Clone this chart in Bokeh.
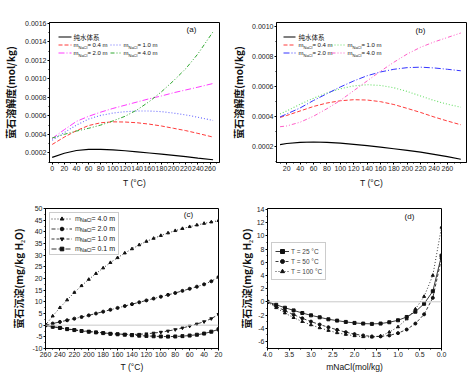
from bokeh.plotting import figure
from bokeh.models import (Range1d, FixedTicker, PrintfTickFormatter, Span, Label,
                          Arrow, Legend, LegendItem)
from bokeh.layouts import column, row
from bokeh.embed import file_html
from bokeh.resources import INLINE

# ---------------- data ----------------
a_T = [0, 20, 40, 60, 80, 100, 120, 140, 160, 180, 200, 220, 240, 265]
a_pure = [0.000150, 0.000195, 0.000225, 0.000238, 0.000238, 0.000232, 0.000222,
          0.000210, 0.000198, 0.000185, 0.000172, 0.000158, 0.000143, 0.000125]
a_m04 = [0.000290, 0.000370, 0.000440, 0.000495, 0.000525, 0.000535, 0.000533,
         0.000525, 0.000510, 0.000490, 0.000465, 0.000440, 0.000410, 0.000370]
a_m10 = [0.000335, 0.000420, 0.000500, 0.000565, 0.000605, 0.000630, 0.000645,
         0.000652, 0.000652, 0.000645, 0.000630, 0.000610, 0.000585, 0.000550]
a_m20 = [0.000355, 0.000450, 0.000540, 0.000595, 0.000640, 0.000680, 0.000715,
         0.000750, 0.000785, 0.000815, 0.000850, 0.000880, 0.000910, 0.000950]
a_m40 = [0.000360, 0.000400, 0.000435, 0.000465, 0.000500, 0.000545, 0.000595,
         0.000665, 0.000755, 0.000860, 0.000980, 0.001110, 0.001270, 0.001510]

b_T = [10, 20, 40, 60, 80, 100, 120, 140, 160, 180, 200, 220, 240, 260, 280]
b_pure = [0.000210, 0.000218, 0.000226, 0.000228, 0.000226, 0.000220, 0.000212, 0.000204,
          0.000194, 0.000183, 0.000172, 0.000160, 0.000146, 0.000130, 0.000113]
b_m04 = [0.000392, 0.000405, 0.000435, 0.000465, 0.000488, 0.000503, 0.000510, 0.000508,
         0.000497, 0.000478, 0.000452, 0.000425, 0.000395, 0.000368, 0.000343]
b_m10 = [0.000415, 0.000435, 0.000480, 0.000520, 0.000555, 0.000583, 0.000602, 0.000610,
         0.000605, 0.000590, 0.000565, 0.000535, 0.000505, 0.000480, 0.000460]
b_m20 = [0.000395, 0.000415, 0.000455, 0.000505, 0.000550, 0.000595, 0.000635, 0.000670,
         0.000695, 0.000713, 0.000724, 0.000727, 0.000722, 0.000713, 0.000703]
b_m40 = [0.000330, 0.000335, 0.000360, 0.000400, 0.000450, 0.000505, 0.000570, 0.000635,
         0.000700, 0.000760, 0.000815, 0.000860, 0.000895, 0.000925, 0.000955]

c_T = [260, 250, 240, 230, 220, 210, 200, 190, 180, 170, 160, 150, 140, 130, 120,
       110, 100, 90, 80, 70, 60, 50, 40, 30, 20]
c_m40 = [0, 3.9, 7.5, 10.8, 14.0, 16.9, 19.6, 22.1, 24.5, 26.8, 28.9, 30.9, 32.7,
         34.4, 35.9, 37.2, 38.4, 39.5, 40.5, 41.4, 42.2, 42.9, 43.6, 44.2, 44.8]
c_m20 = [0, 0.7, 1.4, 2.1, 2.8, 3.5, 4.2, 5.0, 5.8, 6.6, 7.4, 8.2, 9.0, 9.8, 10.6,
         11.4, 12.2, 13.0, 13.8, 14.7, 15.6, 16.5, 17.5, 18.8, 20.6]
c_m10 = [0, -0.6, -1.1, -1.6, -2.0, -2.4, -2.7, -3.0, -3.3, -3.6, -3.8, -3.9, -4.0,
         -3.9, -3.7, -3.4, -3.0, -2.5, -1.9, -1.2, -0.4, 0.5, 1.5, 2.8, 4.6]
c_m01 = [0, -0.7, -1.2, -1.7, -2.1, -2.5, -2.8, -3.1, -3.4, -3.7, -3.9, -4.1, -4.3,
         -4.5, -4.6, -4.75, -4.85, -4.9, -4.85, -4.7, -4.45, -4.1, -3.6, -2.8, -1.8]

d_m = [4.0, 3.8, 3.6, 3.4, 3.2, 3.0, 2.8, 2.6, 2.4, 2.2, 2.0, 1.8, 1.6, 1.4, 1.2,
       1.0, 0.8, 0.6, 0.4, 0.2, 0.0]
d_T25 = [0, -0.45, -0.9, -1.3, -1.7, -2.05, -2.35, -2.65, -2.85, -3.05, -3.2, -3.3,
         -3.35, -3.3, -3.1, -2.8, -2.3, -1.5, -0.3, 1.6, 7.0]
d_T50 = [0, -0.7, -1.35, -1.95, -2.5, -3.0, -3.45, -3.85, -4.25, -4.6, -4.9, -5.1,
         -5.25, -5.25, -5.1, -4.75, -4.2, -3.3, -1.9, 0.6, 6.6]
d_T100 = [0, -0.9, -1.7, -2.4, -3.0, -3.5, -3.95, -4.35, -4.7, -4.95, -5.15, -5.3,
          -5.35, -5.2, -4.6, -3.8, -2.6, -1.1, 0.8, 4.0, 11.3]

# ticks
a_xticks = [0, 20, 40, 60, 80, 100, 120, 140, 160, 180, 200, 220, 240, 260]
a_yticks = [0.0002, 0.0004, 0.0006, 0.0008, 0.0010, 0.0012, 0.0014, 0.0016]
b_xticks = [20, 40, 60, 80, 100, 120, 140, 160, 180, 200, 220, 240, 260]
b_yticks = [0.0002, 0.0004, 0.0006, 0.0008, 0.0010]
c_xticks = [260, 240, 220, 200, 180, 160, 140, 120, 100, 80, 60, 40, 20]
c_yticks = [-10, -5, 0, 5, 10, 15, 20, 25, 30, 35, 40, 45, 50]
d_xticks = [4.0, 3.5, 3.0, 2.5, 2.0, 1.5, 1.0, 0.5, 0.0]
d_yticks = [-6, -4, -2, 0, 2, 4, 6, 8, 10, 12, 14]

ylab_sol = "萤石溶解度(mol/kg)"
ylab_pre = "萤石沉淀(mg/kg H₂O)"
xlab_T = "T (°C)"
xlab_m = "mNaCl(mol/kg)"
legend_ab = ["纯水体系", "0.4", "1.0", "2.0", "4.0"]
legend_c = ["4.0", "2.0", "1.0", "0.1"]
legend_d = ["T = 25 °C", "T = 50 °C", "T = 100 °C"]

# ---------------- helpers ----------------
FONT = "Liberation Sans"
CJK = "Noto Sans CJK SC"
ADV = {"m": .833, "N": .722, "a": .556, "C": .722, "l": .222, " ": .278, "=": .584,
       ".": .278, "T": .611, "(": .333, ")": .333, "°": .4, "o": .556, "/": .278,
       "k": .5, "g": .556}
for d in "0123456789":
    ADV[d] = .556


def tw(s, fs):
    return sum(ADV.get(ch, .556) for ch in s) * fs


FH = 140


def make_fig(w, h, xr, yr, bl, br, bt, bb, xt, xminor, yt, yminor, xfmt, yfmt,
             ylabel, ystand, xlabel, xstand):
    p = figure(width=w, height=h, x_range=xr, y_range=yr, output_backend="svg",
               toolbar_location=None, title=None, min_border_left=bl,
               min_border_right=br, min_border_top=bt, min_border_bottom=bb)
    p.xgrid.visible = False
    p.ygrid.visible = False
    p.outline_line_color = "black"
    p.outline_line_alpha = 1
    p.outline_line_width = 1
    p.background_fill_color = "white"
    p.border_fill_color = "white"
    for ax in (p.xaxis[0], p.yaxis[0]):
        ax.axis_line_color = "black"
        ax.major_tick_out = 2
        ax.major_tick_in = 0
        ax.minor_tick_out = 1
        ax.minor_tick_in = 0
        ax.major_tick_line_color = "black"
        ax.minor_tick_line_color = "black"
        ax.major_label_text_font = FONT
        ax.major_label_text_font_size = "7px"
        ax.major_label_text_color = "#222222"
        ax.major_label_standoff = 1
    p.xaxis[0].ticker = FixedTicker(ticks=xt, minor_ticks=xminor)
    p.yaxis[0].ticker = FixedTicker(ticks=yt, minor_ticks=yminor)
    p.xaxis[0].formatter = PrintfTickFormatter(format=xfmt)
    p.yaxis[0].formatter = PrintfTickFormatter(format=yfmt)
    p.xaxis[0].axis_label = xlabel
    p.xaxis[0].axis_label_text_font = FONT
    p.xaxis[0].axis_label_text_font_size = "8.5px"
    p.xaxis[0].axis_label_text_font_style = "normal"
    p.xaxis[0].axis_label_text_color = "#111111"
    p.xaxis[0].axis_label_standoff = xstand
    p.yaxis[0].axis_label = ylabel
    p.yaxis[0].axis_label_text_font = CJK
    p.yaxis[0].axis_label_text_font_size = "10px"
    p.yaxis[0].axis_label_text_font_style = "bold"
    p.yaxis[0].axis_label_text_color = "#111111"
    p.yaxis[0].axis_label_standoff = ystand
    return p


def add_text(p, x, y, text, fs, font=FONT, style="normal", align="left", color="#111111"):
    p.add_layout(Label(x=x, y=y, x_units="screen", y_units="screen", text=text,
                       text_font=font, text_font_size=f"{fs}px", text_font_style=style,
                       text_align=align, text_baseline="middle", text_color=color))


def add_mtext(p, x, y, val, fs, sfs, with_m=True):
    # "m" + subscript "NaCl" + " = val m"
    if with_m:
        add_text(p, x, y, "m", fs)
        x += tw("m", fs)
    add_text(p, x, y - 0.35 * fs, "NaCl", sfs)
    x += tw("NaCl", sfs)
    add_text(p, x, y, " = " + val + " m", fs)


def seg(p, x0, x1, y, color, dash, width=1.0):
    p.add_layout(Arrow(end=None, x_start=x0, y_start=y, x_end=x1, y_end=y,
                       start_units="screen", end_units="screen", line_color=color,
                       line_dash=dash, line_width=width))


# ---------------- panel (a) ----------------
minor_a = list(range(-10, 281, 10))
pa = make_fig(228, 190, Range1d(-4.4, 275.6), Range1d(0.000095, 0.00161), 46, 9, 22, 28,
              a_xticks, minor_a, a_yticks, [i * 0.0001 for i in range(1, 17)],
              "%d", "%.4f", ylab_sol, 4, xlab_T, 4)
styles_a = [("#000000", "solid", 1.2), ("#ff3b3b", "4 2", 1.0), ("#6a6aff", "1 2", 1.1),
            ("#ff3bff", "6 2 1 2", 1.0), ("#2fa82f", "4 2 1 2 1 2", 1.0)]
for ys, (c, dsh, lw) in zip([a_pure, a_m04, a_m10, a_m20, a_m40], styles_a):
    pa.line(a_T, ys, line_color=c, line_dash=dsh, line_width=lw)
rows = [FH - 14.5, FH - 22.5, FH - 30.5]
seg(pa, 9, 22, rows[0], *styles_a[0])
add_text(pa, 24, rows[0], legend_ab[0], 6.5, font=CJK)
seg(pa, 9, 22, rows[1], *styles_a[1])
add_mtext(pa, 24, rows[1], legend_ab[1], 6, 4)
seg(pa, 61, 72, rows[1], *styles_a[2])
add_mtext(pa, 74, rows[1], legend_ab[2], 6, 4)
seg(pa, 9, 22, rows[2], *styles_a[3])
add_mtext(pa, 24, rows[2], legend_ab[3], 6, 4)
seg(pa, 61, 72, rows[2], *styles_a[4])
add_mtext(pa, 74, rows[2], legend_ab[4], 6, 4)
add_text(pa, 142, FH - 7, "(a)", 8, align="center")

# ---------------- panel (b) ----------------
minor_b = list(range(10, 291, 10))
pb = make_fig(248, 190, Range1d(4.7, 288.5), Range1d(0.0000913, 0.001025), 39, 10, 22, 28,
              b_xticks, minor_b, b_yticks, [i * 0.0001 for i in range(1, 11)],
              "%d", "%.4f", ylab_sol, 3, xlab_T, 4)
styles_b = [("#000000", "solid", 1.2), ("#ff3b3b", "4 2", 1.0), ("#66dd66", "1 2", 1.1),
            ("#3535ff", "6 2 1 2", 1.0), ("#ff5fc8", "4 2 1 2 1 2", 1.0)]
for ys, (c, dsh, lw) in zip([b_pure, b_m04, b_m10, b_m20, b_m40], styles_b):
    pb.line(b_T, ys, line_color=c, line_dash=dsh, line_width=lw)
seg(pb, 7, 19, rows[0], *styles_b[0])
add_text(pb, 22, rows[0], legend_ab[0], 6.5, font=CJK)
seg(pb, 7, 19, rows[1], *styles_b[1])
add_mtext(pb, 22, rows[1], legend_ab[1], 6, 4)
seg(pb, 55, 68, rows[1], *styles_b[2])
add_mtext(pb, 71, rows[1], legend_ab[2], 6, 4)
seg(pb, 7, 19, rows[2], *styles_b[3])
add_mtext(pb, 22, rows[2], legend_ab[3], 6, 4)
seg(pb, 55, 68, rows[2], *styles_b[4])
add_mtext(pb, 71, rows[2], legend_ab[4], 6, 4)
add_text(pb, 144, FH - 8, "(b)", 8, align="center")

# ---------------- panel (c) ----------------
pc = make_fig(228, 190, Range1d(260, 20), Range1d(-10, 50), 45, 10, 18, 32,
              c_xticks, list(range(20, 261, 10)), c_yticks,
              [i * 2.5 for i in range(-4, 21)], "%d", "%d", ylab_pre, 3, xlab_T, 2)
pc.add_layout(Span(location=0, dimension="width", line_color="#c8c8c8", line_width=1))
styles_c = [("1 2", "triangle"), ("4 2 1 2", "circle"),
            ("3 2", "inverted_triangle"), ("5 2", "square")]
items_c = []
for ys, (dsh, mk) in zip([c_m40, c_m20, c_m10, c_m01], styles_c):
    r1 = pc.line(c_T, ys, line_color="#222222", line_dash=dsh, line_width=0.9)
    r2 = pc.scatter(c_T, ys, marker=mk, size=3, color="#111111")
    items_c.append(LegendItem(label="m", renderers=[r1, r2]))
legc = Legend(items=items_c, location="top_left", margin=4, padding=1, spacing=1,
              glyph_width=21, glyph_height=9, label_height=9, label_width=42,
              label_standoff=3, label_text_font=FONT, label_text_font_size="7px",
              border_line_color="#9a9a9a", border_line_width=1, background_fill_alpha=0)
pc.add_layout(legc)
for i, v in enumerate(legend_c):
    cy = FH - (4 + 1 + i * 10 + 4.5)
    add_mtext(pc, 4 + 1 + 21 + 3 + tw("m", 7), cy, v, 7, 5, with_m=False)
add_text(pc, 143, FH - 6, "(c)", 8, align="center")

# ---------------- panel (d) ----------------
pd_ = make_fig(248, 190, Range1d(4.0, 0.0), Range1d(-7.08, 14.15), 39, 35, 18, 32,
               d_xticks, [i * 0.25 for i in range(0, 17)], d_yticks,
               list(range(-7, 15)), "%.1f", "%d", ylab_pre, 0, xlab_m, 2)
pd_.add_layout(Span(location=0, dimension="width", line_color="#c8c8c8", line_width=1))
styles_d = [("solid", "square"), ("3 2", "circle"), ("1 2", "triangle")]
items_d = []
for ys, lab, (dsh, mk) in zip([d_T25, d_T50, d_T100], legend_d, styles_d):
    r1 = pd_.line(d_m, ys, line_color="#222222", line_dash=dsh, line_width=0.9)
    r2 = pd_.scatter(d_m, ys, marker=mk, size=3, color="#111111")
    items_d.append(LegendItem(label=lab, renderers=[r1, r2]))
legd = Legend(items=items_d, location=(4, 68), padding=3, spacing=0,
              glyph_width=14, glyph_height=10, label_height=10, label_standoff=2,
              label_text_font=FONT, label_text_font_size="6.5px",
              border_line_color="#9a9a9a", border_line_width=1, background_fill_alpha=1)
pd_.add_layout(legd)
add_text(pd_, 142, FH - 8, "(d)", 8, align="center")

layout = column(row(pa, pb), row(pc, pd_))
open("out.html", "w").write(file_html(layout, INLINE))
